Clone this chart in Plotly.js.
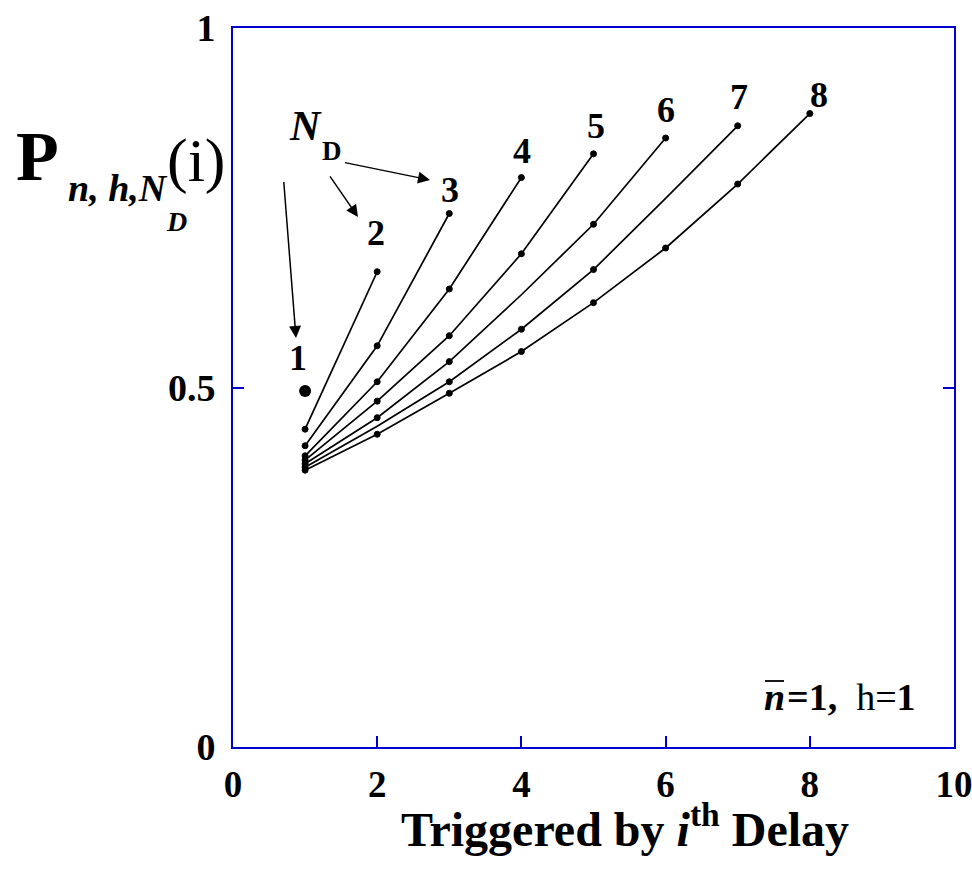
<!DOCTYPE html>
<html>
<head>
<meta charset="utf-8">
<script src="https://cdn.plot.ly/plotly-3.0.1.min.js"></script>
<style>html,body{margin:0;padding:0;background:#fff;}</style>
</head>
<body>
<div id="chart" style="width:972px;height:872px;"></div>
<script>
// ---- data ----
const seriesNames = ['1','2','3','4','5','6','7','8'];
const xN1 = [1];
const pN1 = [0.495];
const xN2 = [1, 2];
const pN2 = [0.442, 0.661];
const xN3 = [1, 2, 3];
const pN3 = [0.419, 0.558, 0.742];
const xN4 = [1, 2, 3, 4];
const pN4 = [0.405, 0.508, 0.637, 0.792];
const xN5 = [1, 2, 3, 4, 5];
const pN5 = [0.399, 0.481, 0.572, 0.686, 0.825];
const xN6 = [1, 2, 3, 4, 5, 6];
const pN6 = [0.394, 0.458, 0.536, 0.629, 0.727, 0.847];
const xN7 = [1, 2, 3, 4, 5, 6, 7];
const pN7 = [0.389, 0.446, 0.508, 0.581, 0.664, 0.763, 0.864];
const xN8 = [1, 2, 3, 4, 5, 6, 7, 8];
const pN8 = [0.385, 0.435, 0.492, 0.550, 0.618, 0.694, 0.783, 0.881];
const xTicks = [0, 2, 4, 6, 8, 10];
const yTicks = [0, 0.5, 1];
const yTickText = ['0', '0.5', '1'];
const xTitle = '<b>Triggered by <i>i</i><sup>th</sup> Delay</b>';

// ---- styling ----
const W = 972, H = 872;
const M = {l: 233, r: 18, t: 28, b: 125};
const pw = W - M.l - M.r, ph = H - M.t - M.b;
const px = (x) => (x - M.l) / pw;          // pixel -> paper x
const py = (y) => (H - M.b - y) / ph;      // pixel -> paper y
const SERIF = 'Liberation Serif, Times New Roman, serif';
// points drawn without a dot in the reference (series number -> point indices)
const noDot = {6: [3], 7: [1, 5]};

const xs = [xN1, xN2, xN3, xN4, xN5, xN6, xN7, xN8];
const ys = [pN1, pN2, pN3, pN4, pN5, pN6, pN7, pN8];

const traces = xs.map((x, k) => {
  const n = k + 1;
  const opac = x.map((_, i) => (noDot[n] && noDot[n].includes(i)) ? 0 : 1);
  if (n === 1) {
    return {x: x, y: ys[k], type: 'scatter', mode: 'markers', name: 'N_D=' + seriesNames[k],
      marker: {color: 'black', size: 12}, showlegend: false, hoverinfo: 'x+y'};
  }
  return {x: x, y: ys[k], type: 'scatter', mode: 'lines+markers', name: 'N_D=' + seriesNames[k],
    line: {color: 'black', width: 1.7},
    marker: {color: 'black', size: 6, opacity: opac, line: {color: 'black', width: 1}},
    showlegend: false, hoverinfo: 'x+y'};
});

// series label positions (pixels)
const labelPos = [[298, 358], [376, 233], [450, 190], [522, 151], [596, 126], [666, 110], [739, 97], [819, 95]];
const annotations = seriesNames.map((s, k) => ({
  xref: 'paper', yref: 'paper', x: px(labelPos[k][0]), y: py(labelPos[k][1]),
  text: '<b>' + s + '</b>', showarrow: false, xanchor: 'center', yanchor: 'middle',
  font: {family: SERIF, size: 36, color: 'black'}
}));

// N_D label
annotations.push({xref: 'paper', yref: 'paper', x: px(305), y: py(126), text: '<b><i>N</i></b>',
  showarrow: false, xanchor: 'center', yanchor: 'middle', font: {family: SERIF, size: 42, color: 'black'}});
annotations.push({xref: 'paper', yref: 'paper', x: px(332), y: py(151), text: '<b>D</b>',
  showarrow: false, xanchor: 'center', yanchor: 'middle', font: {family: SERIF, size: 27, color: 'black'}});

// arrows (pixel tail -> head)
const arrows = [[[283, 172], [296, 338]], [[327, 172], [358, 217]], [[342, 162], [430, 180]]];
arrows.forEach(a => {
  annotations.push({xref: 'paper', yref: 'paper', axref: 'pixel', ayref: 'pixel',
    x: px(a[1][0]), y: py(a[1][1]), ax: a[0][0] - a[1][0], ay: a[0][1] - a[1][1],
    text: ' ', showarrow: true, arrowhead: 2, arrowsize: 1.6, arrowwidth: 1.5, arrowcolor: 'black'});
});

// y axis title composite: P_{n,h,N_D}(i)
annotations.push({xref: 'paper', yref: 'paper', x: px(14), y: py(157), text: '<b>P</b>',
  showarrow: false, xanchor: 'left', yanchor: 'middle', font: {family: SERIF, size: 70, color: 'black'}});
annotations.push({xref: 'paper', yref: 'paper', x: px(66), y: py(188), text: '<b><i>n, h,N</i></b>',
  showarrow: false, xanchor: 'left', yanchor: 'middle', font: {family: SERIF, size: 38, color: 'black'}});
annotations.push({xref: 'paper', yref: 'paper', x: px(176), y: py(221), text: '<b><i>D</i></b>',
  showarrow: false, xanchor: 'center', yanchor: 'middle', font: {family: SERIF, size: 28, color: 'black'}});
annotations.push({xref: 'paper', yref: 'paper', x: px(196), y: py(160), text: '(i)',
  showarrow: false, xanchor: 'center', yanchor: 'middle', font: {family: SERIF, size: 62, color: 'black'}});

// parameter note: overlined n, then "=1, h=1"
annotations.push({xref: 'paper', yref: 'paper', x: px(762), y: py(697), text: '<b><i>n</i></b>',
  showarrow: false, xanchor: 'left', yanchor: 'middle', font: {family: SERIF, size: 38, color: 'black'}});
annotations.push({xref: 'paper', yref: 'paper', x: px(785), y: py(697), text: '<b>=1,</b>  h=<b>1</b>',
  showarrow: false, xanchor: 'left', yanchor: 'middle', font: {family: SERIF, size: 38, color: 'black'}});

// x axis title (placed as in the reference, slightly right of centre)
annotations.push({xref: 'paper', yref: 'paper', x: px(625), y: py(826), text: xTitle,
  showarrow: false, xanchor: 'center', yanchor: 'middle', font: {family: SERIF, size: 48, color: 'black'}});

const layout = {
  width: W, height: H, margin: M,
  paper_bgcolor: 'white', plot_bgcolor: 'white',
  xaxis: {range: [0, 10], tickvals: xTicks, ticks: 'inside', ticklen: 11, tickwidth: 2, tickcolor: '#0000cc',
    showline: true, linecolor: '#0000cc', linewidth: 2, mirror: true, showgrid: false, zeroline: false,
    tickfont: {family: SERIF, size: 37, color: 'black', weight: 'bold'}, ticklabelstandoff: 4,
    ticklabeloverflow: 'allow'},
  yaxis: {range: [0, 1], tickvals: yTicks, ticktext: yTickText, ticks: 'inside', ticklen: 11, tickwidth: 2,
    tickcolor: '#0000cc', showline: true, linecolor: '#0000cc', linewidth: 2, mirror: 'ticks',
    showgrid: false, zeroline: false, ticklabelstandoff: 8,
    tickfont: {family: SERIF, size: 38, color: 'black', weight: 'bold'}},
  annotations: annotations,
  shapes: [{type: 'line', xref: 'paper', yref: 'paper', x0: px(765), x1: px(784), y0: py(681), y1: py(681),
    line: {color: 'black', width: 1.8}}],
  showlegend: false
};

Plotly.newPlot('chart', traces, layout, {displayModeBar: false, staticPlot: true});
</script>
</body>
</html>
